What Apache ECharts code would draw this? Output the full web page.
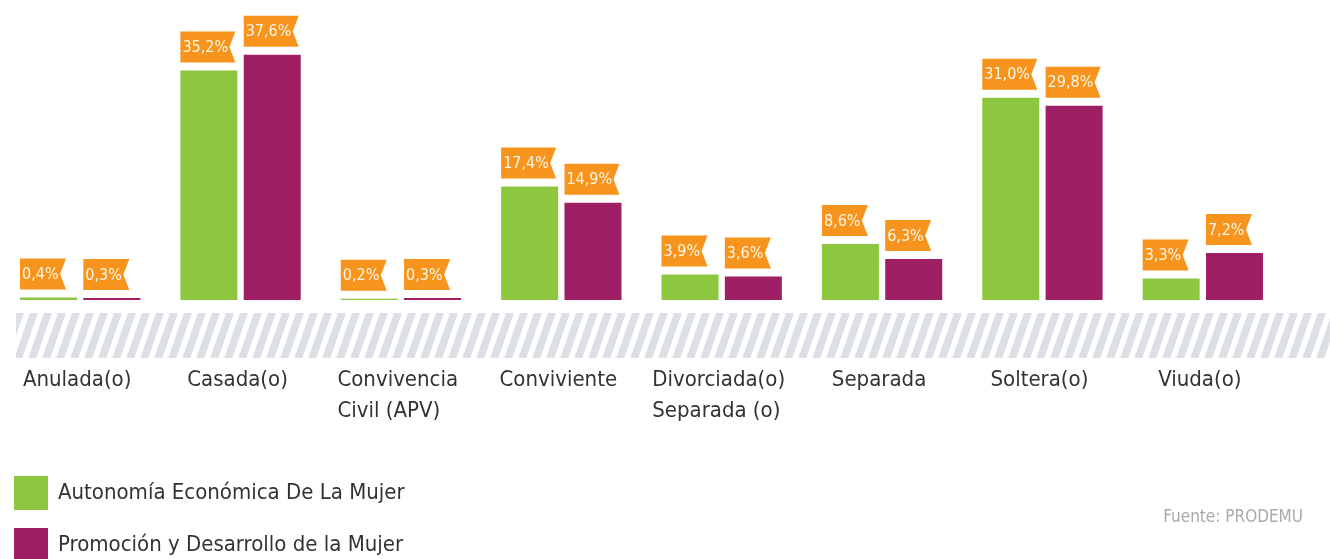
<!DOCTYPE html>
<html>
<head>
<meta charset="utf-8">
<script src="https://cdn.jsdelivr.net/npm/echarts@6/dist/echarts.min.js"></script>
<style>html,body{margin:0;padding:0;background:#fff}#c{width:1330px;height:559px}</style>
</head>
<body>
<div id="c"></div>
<script>
var categories = ['Anulada(o)', 'Casada(o)', 'Convivencia\nCivil (APV)', 'Conviviente', 'Divorciada(o)\nSeparada (o)', 'Separada', 'Soltera(o)', 'Viuda(o)'];
var seriesNames = ['Autonomía Económica De La Mujer', 'Promoción y Desarrollo de la Mujer'];
var autonomia = [0.4, 35.2, 0.2, 17.4, 3.9, 8.6, 31.0, 3.3];
var promocion = [0.3, 37.6, 0.3, 14.9, 3.6, 6.3, 29.8, 7.2];
var sourceText = 'Fuente: PRODEMU';

var FONT = "'Liberation Sans Narrow', 'Arial Narrow', 'DejaVu Sans Condensed', sans-serif";
var GREEN = '#8DC63F', PURPLE = '#9E1F63', ORANGE = '#F7941D';
var BAR_W = 57, GAP = 6.3, AX_FS = 22;

var measureCtx = document.createElement('canvas').getContext('2d');
function textW(t, size) { measureCtx.font = size + 'px ' + FONT; return measureCtx.measureText(t).width; }
function fmt(v) { return v.toFixed(1).replace('.', ',') + '%'; }

// stripe pattern
var pat = document.createElement('canvas');
pat.width = 14; pat.height = 40;
(function () {
  var g = pat.getContext('2d');
  g.fillStyle = '#ffffff'; g.fillRect(0, 0, 14, 40);
  g.fillStyle = '#dcdfe3';
  for (var k = -1; k <= 1; k++) {
    var o = k * 14;
    g.beginPath();
    g.moveTo(o + 0, 40); g.lineTo(o + 8, 40); g.lineTo(o + 22, 0); g.lineTo(o + 14, 0);
    g.closePath(); g.fill();
  }
})();

// left-aligned lines inside centered multi-line category labels
var rich = {};
var richKeys = {};
categories.forEach(function (c, i) {
  if (c.indexOf('\n') < 0) return;
  var w = Math.max.apply(null, c.split('\n').map(function (l) { return textW(l, AX_FS); }));
  rich['m' + i] = { width: Math.ceil(w), align: 'left', fontFamily: FONT, fontSize: AX_FS, lineHeight: 31, color: '#333' };
  richKeys[c] = 'm' + i;
});

var labelData = [];
autonomia.forEach(function (v, i) { labelData.push([i, v, 0]); });
promocion.forEach(function (v, i) { labelData.push([i, v, 1]); });

var chart = echarts.init(document.getElementById('c'), null, { renderer: 'canvas' });
chart.setOption({
  animation: false,
  backgroundColor: '#fff',
  title: {
    text: sourceText, right: 22, top: 504,
    textStyle: { fontFamily: FONT, fontSize: 17, fontWeight: 'normal', color: '#aaaaaa' }
  },
  legend: {
    data: seriesNames, orient: 'vertical', left: 9, top: 471, height: 200, itemGap: 18,
    itemWidth: 34, itemHeight: 34, icon: 'rect',
    textStyle: { fontFamily: FONT, fontSize: AX_FS, color: '#333', padding: [0, 0, 0, 5] }
  },
  grid: { left: -3, right: 47, top: 0, bottom: 259, containLabel: false },
  xAxis: {
    type: 'category', data: categories,
    axisLine: { show: false }, axisTick: { show: false },
    axisLabel: {
      interval: 0, margin: 65, color: '#333', fontFamily: FONT, fontSize: AX_FS, lineHeight: 31,
      padding: [0, 6, 0, 0],
      formatter: function (v) {
        var key = richKeys[v];
        if (!key) return v;
        return v.split('\n').map(function (l) { return '{' + key + '|' + l + '}'; }).join('\n');
      },
      rich: rich
    }
  },
  yAxis: { type: 'value', min: 0, max: 46, show: false, splitLine: { show: false } },
  graphic: [{
    type: 'rect', left: 16, top: 313, z: -1,
    shape: { width: 1314, height: 45 },
    style: { fill: { image: pat, repeat: 'repeat' } }
  }],
  series: [
    { name: seriesNames[0], type: 'bar', data: autonomia, barWidth: BAR_W, barGap: (GAP / BAR_W * 100).toFixed(1) + '%', itemStyle: { color: GREEN } },
    { name: seriesNames[1], type: 'bar', data: promocion, barWidth: BAR_W, itemStyle: { color: PURPLE } },
    {
      type: 'custom', data: labelData, clip: false, z: 5, silent: true,
      encode: { x: 0, y: 1 },
      renderItem: function (params, api) {
        var ci = api.value(0), v = api.value(1), s = api.value(2);
        var p = api.coord([ci, v]);
        var left = p[0] - (BAR_W * 2 + GAP) / 2 + s * (BAR_W + GAP);
        var txt = fmt(v);
        var w = Math.round(textW(txt, 16) + 9), h = 31, notch = 6;
        var bottom = p[1] - 8, top = bottom - h;
        return {
          type: 'group',
          children: [{
            type: 'polygon',
            shape: { points: [[left, top], [left + w, top], [left + w - notch, top + h / 2], [left + w, bottom], [left, bottom]] },
            style: { fill: ORANGE }
          }, {
            type: 'text',
            style: { text: txt, x: left + 2, y: top + h / 2 + 1, verticalAlign: 'middle', align: 'left', fill: '#FFF7E6', font: '16px ' + FONT }
          }]
        };
      }
    }
  ]
});
</script>
</body>
</html>
